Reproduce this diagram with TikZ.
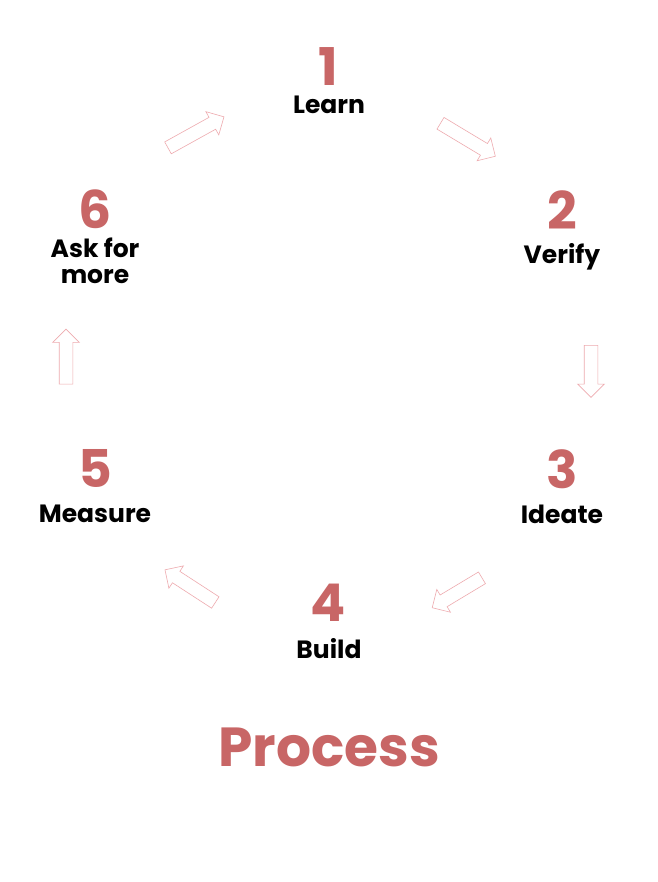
\documentclass[tikz,border=0pt]{standalone}
\usepackage{fontspec}
\setmainfont{Poppins}
\usetikzlibrary{shapes.arrows}
\definecolor{numred}{RGB}{200,102,102}
\definecolor{arrowpink}{RGB}{238,170,175}
\tikzset{
  num/.style={text=numred,font=\fontsize{52}{54}\selectfont\bfseries,inner sep=0pt,text depth=0pt,anchor=base},
  lbl/.style={text=black,font=\fontsize{25}{26}\selectfont\bfseries,inner sep=0pt,align=center,anchor=base},
  blockarrow/.style={single arrow,draw=arrowpink,line width=0.6pt,fill=white,
    inner xsep=0pt,inner ysep=6.5pt,single arrow head extend=6.5pt,single arrow tip angle=90}
}
\begin{document}
\begin{tikzpicture}[x=1pt,y=-1pt]
\useasboundingbox[fill=white] (0,0) rectangle (657,882);
% numbers and labels
\node[num] (n1) at (328,86) {1};
\node[lbl] (l1) at (329,114) {Learn};
\node[num] (n2) at (562,230) {2};
\node[lbl] (l2) at (562,263) {Verify};
\node[num] (n3) at (562,488) {3};
\node[lbl] (l3) at (562,523) {Ideate};
\node[num] (n4) at (328,621) {4};
\node[lbl] (l4) at (329,658) {Build};
\node[num] (n5) at (95,487) {5};
\node[lbl] (l5) at (95,522) {Measure};
\node[num] (n6) at (95,229) {6};
\node[lbl,anchor=north] (l6) at (95,238) {Ask for\\more};
\node[text=numred,font=\fontsize{55}{57}\selectfont\bfseries,inner sep=0pt,anchor=base] (title) at (329,766) {Process};
% block arrows
\node[blockarrow,minimum height=64pt,rotate=29] (a1) at (193,134) {};
\node[blockarrow,minimum height=64pt,rotate=-31] (a2) at (465,138) {};
\node[blockarrow,minimum height=52pt,rotate=-90] (a3) at (591,368) {};
\node[blockarrow,minimum height=58pt,rotate=211] (a4) at (460,591) {};
\node[blockarrow,minimum height=60pt,rotate=147] (a5) at (193,588) {};
\node[blockarrow,minimum height=55pt,rotate=90] (a6) at (66,360) {};
\end{tikzpicture}
\end{document}
